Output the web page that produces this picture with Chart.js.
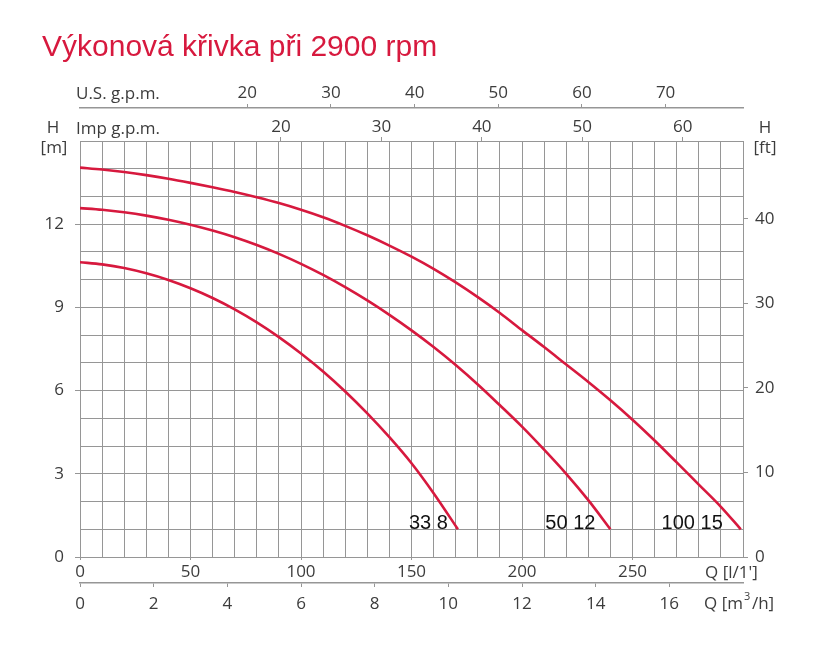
<!DOCTYPE html>
<html>
<head>
<meta charset="utf-8">
<script src="https://cdn.jsdelivr.net/npm/chart.js@4.4.1/dist/chart.umd.min.js"></script>
<style>
  html, body { margin: 0; padding: 0; background: #fff; }
</style>
</head>
<body>
<canvas id="chart" width="826" height="651"></canvas>
<script>
// pump curves, Q in l/min, H in m
const q338 = [0, 10, 20, 30, 40, 50, 60, 70, 80, 90, 100, 110, 120, 130, 140, 150, 160, 171];
const h338 = [10.63, 10.55, 10.42, 10.23, 9.99, 9.69, 9.34, 8.93, 8.46, 7.93, 7.34, 6.69, 5.97, 5.18, 4.32, 3.38, 2.3, 1.0];

const q5012 = [0, 10, 20, 30, 40, 50, 60, 70, 80, 90, 100, 110, 120, 130, 140, 150, 160, 170, 180, 190, 200, 210, 220, 230, 240];
const h5012 = [12.58, 12.52, 12.43, 12.31, 12.16, 11.98, 11.77, 11.53, 11.25, 10.93, 10.57, 10.17, 9.73, 9.25, 8.73, 8.17, 7.57, 6.92, 6.22, 5.47, 4.7, 3.87, 3.0, 2.05, 1.0];

const q10015 = [0, 10, 20, 30, 40, 50, 60, 70, 80, 90, 100, 110, 120, 130, 140, 150, 160, 170, 180, 190, 200, 210, 220, 230, 240, 250, 260, 270, 280, 290, 299];
const h10015 = [14.04, 13.97, 13.88, 13.77, 13.64, 13.49, 13.33, 13.16, 12.97, 12.76, 12.52, 12.25, 11.94, 11.6, 11.23, 10.83, 10.39, 9.9, 9.37, 8.8, 8.18, 7.57, 6.94, 6.31, 5.65, 4.95, 4.2, 3.41, 2.61, 1.81, 1.0];

const curveNames = ['33 8', '50 12', '100 15'];

// tick labels
const qTicks = [0, 50, 100, 150, 200, 250];
const m3Ticks = [0, 2, 4, 6, 8, 10, 12, 14, 16];
const impTicks = [20, 30, 40, 50, 60];
const usTicks = [20, 30, 40, 50, 60, 70];
const hTicks = [0, 3, 6, 9, 12];
const ftTicks = [0, 10, 20, 30, 40];

const title = 'Výkonová křivka při 2900 rpm';

const Q_MAX = 300, H_MAX = 15;
const RED = '#d7193e';
const GRID = '#969696';
const TXT = '#3c3c3c';
const tickFont = { family: '"Open Sans", sans-serif', size: 17 };

function pts(qs, hs) { return qs.map((q, i) => ({ x: q, y: hs[i] })); }

function fixTicks(values) {
  return s => { s.ticks = values.map(v => ({ value: v })); };
}

const extraText = {
  id: 'extraText',
  afterDraw(chart) {
    const { ctx } = chart;
    const x = chart.scales.x, y = chart.scales.y;
    ctx.save();
    ctx.fillStyle = RED;
    ctx.font = '30px "Liberation Sans", Arial, sans-serif';
    ctx.textBaseline = 'alphabetic';
    ctx.textAlign = 'left';
    ctx.fillText(title, 42, 56);

    ctx.fillStyle = TXT;
    ctx.font = '17px "Open Sans", sans-serif';
    ctx.fillText('U.S. g.p.m.', 76, 98.5);
    ctx.fillText('Imp g.p.m.', 76, 133.5);
    ctx.textAlign = 'center';
    ctx.fillText('H', 53, 133);
    ctx.fillText('[m]', 54, 153);
    ctx.fillText('H', 765, 133);
    ctx.fillText('[ft]', 765, 153);
    ctx.textAlign = 'left';
    ctx.fillText("Q [l/1']", 705, 577.5);
    ctx.fillText('Q [m', 704, 609);
    const w = ctx.measureText('Q [m').width;
    ctx.font = '11px "Open Sans", sans-serif';
    ctx.fillText('3', 704 + w + 1, 600);
    ctx.font = '17px "Open Sans", sans-serif';
    ctx.fillText('/h]', 704 + w + 9, 609);

    // curve names near curve ends
    ctx.fillStyle = '#111';
    ctx.font = '20px "Liberation Sans", Arial, sans-serif';
    ctx.textAlign = 'right';
    const ends = [q338[q338.length - 1], q5012[q5012.length - 1], q10015[q10015.length - 1]];
    const gaps = [10, 15, 18];
    curveNames.forEach((n, i) => {
      ctx.fillText(n, x.getPixelForValue(ends[i]) - gaps[i], y.getPixelForValue(1) - 0.5);
    });
    ctx.restore();
  }
};

const lineStyle = {
  borderColor: RED,
  borderWidth: 2.6,
  pointRadius: 0,
  fill: false,
  cubicInterpolationMode: 'monotone'
};

new Chart(document.getElementById('chart'), {
  type: 'line',
  data: {
    datasets: [
      { label: curveNames[0], data: pts(q338, h338), ...lineStyle },
      { label: curveNames[1], data: pts(q5012, h5012), ...lineStyle },
      { label: curveNames[2], data: pts(q10015, h10015), ...lineStyle }
    ]
  },
  options: {
    responsive: false,
    animation: false,
    layout: { padding: { top: 75, left: 0, right: 0, bottom: 28 } },
    plugins: { legend: { display: false }, tooltip: { enabled: false } },
    scales: {
      x: {
        type: 'linear', position: 'bottom', weight: 1,
        min: 0, max: Q_MAX,
        afterBuildTicks: s => { s.ticks = Array.from({ length: 31 }, (_, i) => ({ value: i * 10 })); },
        afterFit: s => { s.height = 26; },
        ticks: {
          autoSkip: false, maxRotation: 0, padding: 2, color: TXT, font: tickFont,
          callback: v => qTicks.includes(v) ? String(v) : ''
        },
        grid: {
          color: GRID, lineWidth: 1, tickLength: 3,
          tickColor: c => qTicks.includes(c.tick.value) ? GRID : 'transparent'
        },
        border: { color: GRID }
      },
      xm3: {
        type: 'linear', position: 'bottom', weight: 2,
        min: 0, max: Q_MAX * 60 / 1000,
        afterBuildTicks: fixTicks(m3Ticks),
        afterFit: s => { s.height = 40; },
        ticks: { autoSkip: false, maxRotation: 0, padding: 7, color: TXT, font: tickFont },
        grid: { drawOnChartArea: false, color: GRID, tickLength: 4 },
        border: { color: GRID, width: 1.5 }
      },
      ximp: {
        type: 'linear', position: 'top', weight: 1,
        min: 0, max: Q_MAX / 4.54609,
        afterBuildTicks: fixTicks(impTicks),
        afterFit: s => { s.height = 33; },
        ticks: { autoSkip: false, maxRotation: 0, padding: 0, color: TXT, font: tickFont },
        grid: { drawOnChartArea: false, color: GRID, tickLength: 4 },
        border: { color: GRID }
      },
      xus: {
        type: 'linear', position: 'top', weight: 2,
        min: 0, max: Q_MAX / 3.78541,
        afterBuildTicks: fixTicks(usTicks),
        afterFit: s => { s.height = 33; },
        ticks: { autoSkip: false, maxRotation: 0, padding: 1, color: TXT, font: tickFont },
        grid: { drawOnChartArea: false, color: GRID, tickLength: 4 },
        border: { color: GRID, width: 1.5 }
      },
      y: {
        type: 'linear', position: 'left',
        min: 0, max: H_MAX,
        afterBuildTicks: s => { s.ticks = Array.from({ length: 16 }, (_, i) => ({ value: i })); },
        afterFit: s => { s.width = 80; },
        ticks: {
          autoSkip: false, padding: 11, color: TXT, font: tickFont,
          callback: v => hTicks.includes(v) ? String(v) : ''
        },
        grid: {
          color: GRID, lineWidth: 1, tickLength: 5,
          tickColor: c => hTicks.includes(c.tick.value) ? GRID : 'transparent'
        },
        border: { color: GRID }
      },
      yft: {
        type: 'linear', position: 'right',
        min: 0, max: H_MAX / 0.3048,
        afterBuildTicks: fixTicks(ftTicks),
        afterFit: s => { s.width = 83; },
        ticks: { autoSkip: false, padding: 7, color: TXT, font: tickFont },
        grid: { drawOnChartArea: false, color: GRID, tickLength: 5 },
        border: { color: GRID }
      }
    }
  },
  plugins: [extraText]
});
</script>
</body>
</html>
